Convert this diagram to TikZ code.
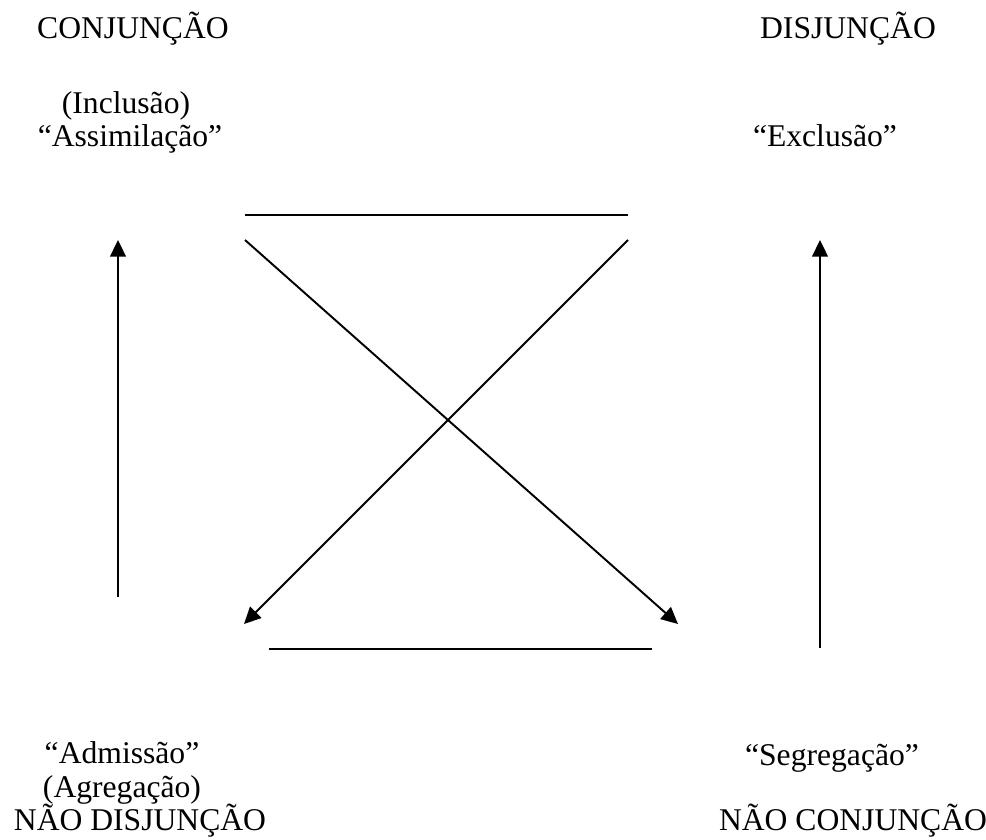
\documentclass[tikz,border=0pt]{standalone}
\usepackage{fontspec}
\setmainfont{Liberation Serif}
\usetikzlibrary{arrows.meta}

\tikzstyle{label} = [inner sep=0pt,anchor=base,font=\fontsize{18}{20}\selectfont]
\tikzstyle{link} = [line width=1.1pt]
\tikzstyle{arrow} = [line width=1.1pt,-{Triangle[length=9.5pt,width=9pt]}]

\begin{document}
\begin{tikzpicture}[x=0.02cm,y=-0.02cm]
	\useasboundingbox (0,0) rectangle (986,839);
	\node[label] (conj) at (133,38) {CONJUNÇÃO};
	\node[label] (incl) at (126,113) {(Inclusão)};
	\node[label] (assim) at (130,146) {``Assimilação''};
	\node[label] (disj) at (848,38) {DISJUNÇÃO};
	\node[label] (excl) at (825,146) {``Exclusão''};
	\node[label] (admis) at (122,763) {``Admissão''};
	\node[label] (agreg) at (122,797) {(Agregação)};
	\node[label] (ndisj) at (140,830) {NÃO DISJUNÇÃO};
	\node[label] (segreg) at (832,765) {``Segregação''};
	\node[label] (nconj) at (853,830) {NÃO CONJUNÇÃO};
	\coordinate (tl) at (245,215);
	\coordinate (tr) at (628,215);
	\coordinate (bl) at (269,649);
	\coordinate (br) at (652,649);
	\coordinate (d1s) at (245,240);
	\coordinate (d1e) at (678,624);
	\coordinate (d2s) at (628,240);
	\coordinate (d2e) at (244,624);
	\coordinate (ls) at (118,597);
	\coordinate (le) at (118,240);
	\coordinate (rs) at (820,648);
	\coordinate (re) at (820,240);
	\draw[link] (tl) -- (tr);
	\draw[link] (bl) -- (br);
	\draw[arrow] (d1s) -- (d1e);
	\draw[arrow] (d2s) -- (d2e);
	\draw[arrow] (ls) -- (le);
	\draw[arrow] (rs) -- (re);
\end{tikzpicture}
\end{document}
